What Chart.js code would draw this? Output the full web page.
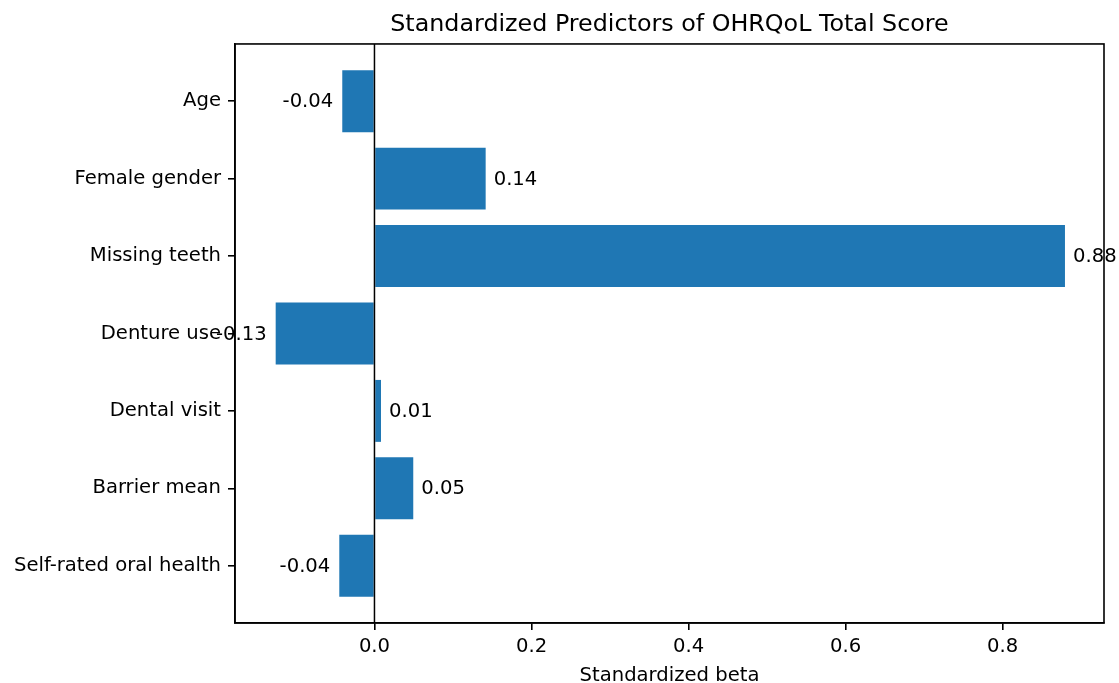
<!DOCTYPE html>
<html>
<head>
<meta charset="utf-8">
<script src="https://cdn.jsdelivr.net/npm/chart.js@4.4.1/dist/chart.umd.min.js"></script>
<style>
  html, body { margin: 0; padding: 0; background: #fff; }
  #wrap { width: 1119px; height: 683px; }
</style>
</head>
<body>
<div id="wrap"><canvas id="c" width="1119" height="683"></canvas></div>
<script>
// Predictor names, top to bottom
const predictors = [
  'Age',
  'Female gender',
  'Missing teeth',
  'Denture use',
  'Dental visit',
  'Barrier mean',
  'Self-rated oral health'
];
// Standardized regression coefficients
const betas = [-0.041, 0.1416, 0.8793, -0.1258, 0.0083, 0.0494, -0.0448];
// Value-axis tick positions
const betaTicks = [0.0, 0.2, 0.4, 0.6, 0.8];

const FONT = 'DejaVu Sans';
const BAR_BLUE = '#1f77b4';

// Frame, zero reference line and value labels
const decorations = {
  id: 'decorations',
  afterDatasetsDraw(chart) {
    const { ctx, chartArea: a, scales: { x, y } } = chart;
    ctx.save();
    // vertical line at beta = 0
    const x0 = x.getPixelForValue(0);
    ctx.strokeStyle = '#000';
    ctx.lineWidth = 1.5;
    ctx.beginPath();
    ctx.moveTo(x0, a.top);
    ctx.lineTo(x0, a.bottom);
    ctx.stroke();
    // value labels beside each bar end
    ctx.fillStyle = '#000';
    ctx.font = '19.6px "' + FONT + '"';
    ctx.textBaseline = 'middle';
    betas.forEach((v, i) => {
      const px = x.getPixelForValue(v);
      const py = y.getPixelForValue(i) + 1;
      const txt = v.toFixed(2);
      if (v >= 0) {
        ctx.textAlign = 'left';
        ctx.fillText(txt, px + 8, py);
      } else {
        ctx.textAlign = 'right';
        ctx.fillText(txt, px - 9, py);
      }
    });
    ctx.restore();
  },
  afterDraw(chart) {
    const { ctx, chartArea: a } = chart;
    ctx.save();
    ctx.strokeStyle = '#000';
    ctx.lineWidth = 1.6;
    ctx.strokeRect(a.left, a.top, a.right - a.left, a.bottom - a.top);
    ctx.restore();
  }
};

new Chart(document.getElementById('c'), {
  type: 'bar',
  data: {
    datasets: [{
      data: betas.map((v, i) => ({ x: v, y: i })),
      backgroundColor: BAR_BLUE,
      borderWidth: 0,
      barPercentage: 0.8,
      categoryPercentage: 1.0
    }]
  },
  options: {
    indexAxis: 'y',
    responsive: false,
    animation: false,
    devicePixelRatio: 1,
    layout: { padding: { top: 0, right: 15, left: 0, bottom: 0 } },
    plugins: {
      legend: { display: false },
      tooltip: { enabled: false },
      title: {
        display: true,
        fullSize: false,
        text: 'Standardized Predictors of OHRQoL Total Score',
        color: '#000',
        font: { family: FONT, size: 23.8, weight: 'normal', lineHeight: 1.2 },
        padding: { top: 11, bottom: 4.4 }
      }
    },
    scales: {
      x: {
        type: 'linear',
        min: -0.1776,
        max: 0.929,
        afterBuildTicks(scale) { scale.ticks = betaTicks.map(v => ({ value: v })); },
        afterFit(scale) { scale.height = 60; },
        grid: { drawOnChartArea: false, drawTicks: true, tickLength: 7, color: '#000', lineWidth: 1.6 },
        border: { display: true, color: '#000', width: 1.6 },
        ticks: {
          color: '#000',
          padding: 5,
          font: { family: FONT, size: 19.6 },
          callback: v => Number(v).toFixed(1)
        },
        title: {
          display: true,
          text: 'Standardized beta',
          color: '#000',
          font: { family: FONT, size: 19.6, lineHeight: 1.0 },
          padding: { top: 0, bottom: -3 }
        }
      },
      y: {
        type: 'linear',
        reverse: true,
        offset: false,
        min: -0.74,
        max: 6.74,
        afterBuildTicks(scale) { scale.ticks = predictors.map((_, i) => ({ value: i })); },
        afterFit(scale) { scale.width = 235; },
        grid: { offset: false, drawOnChartArea: false, drawTicks: true, tickLength: 7, color: '#000', lineWidth: 1.6 },
        border: { display: true, color: '#000', width: 1.6 },
        ticks: {
          color: '#000',
          padding: 7,
          font: { family: FONT, size: 19.6 },
          callback: v => predictors[v] ?? ''
        }
      }
    }
  },
  plugins: [decorations]
});
</script>
</body>
</html>
